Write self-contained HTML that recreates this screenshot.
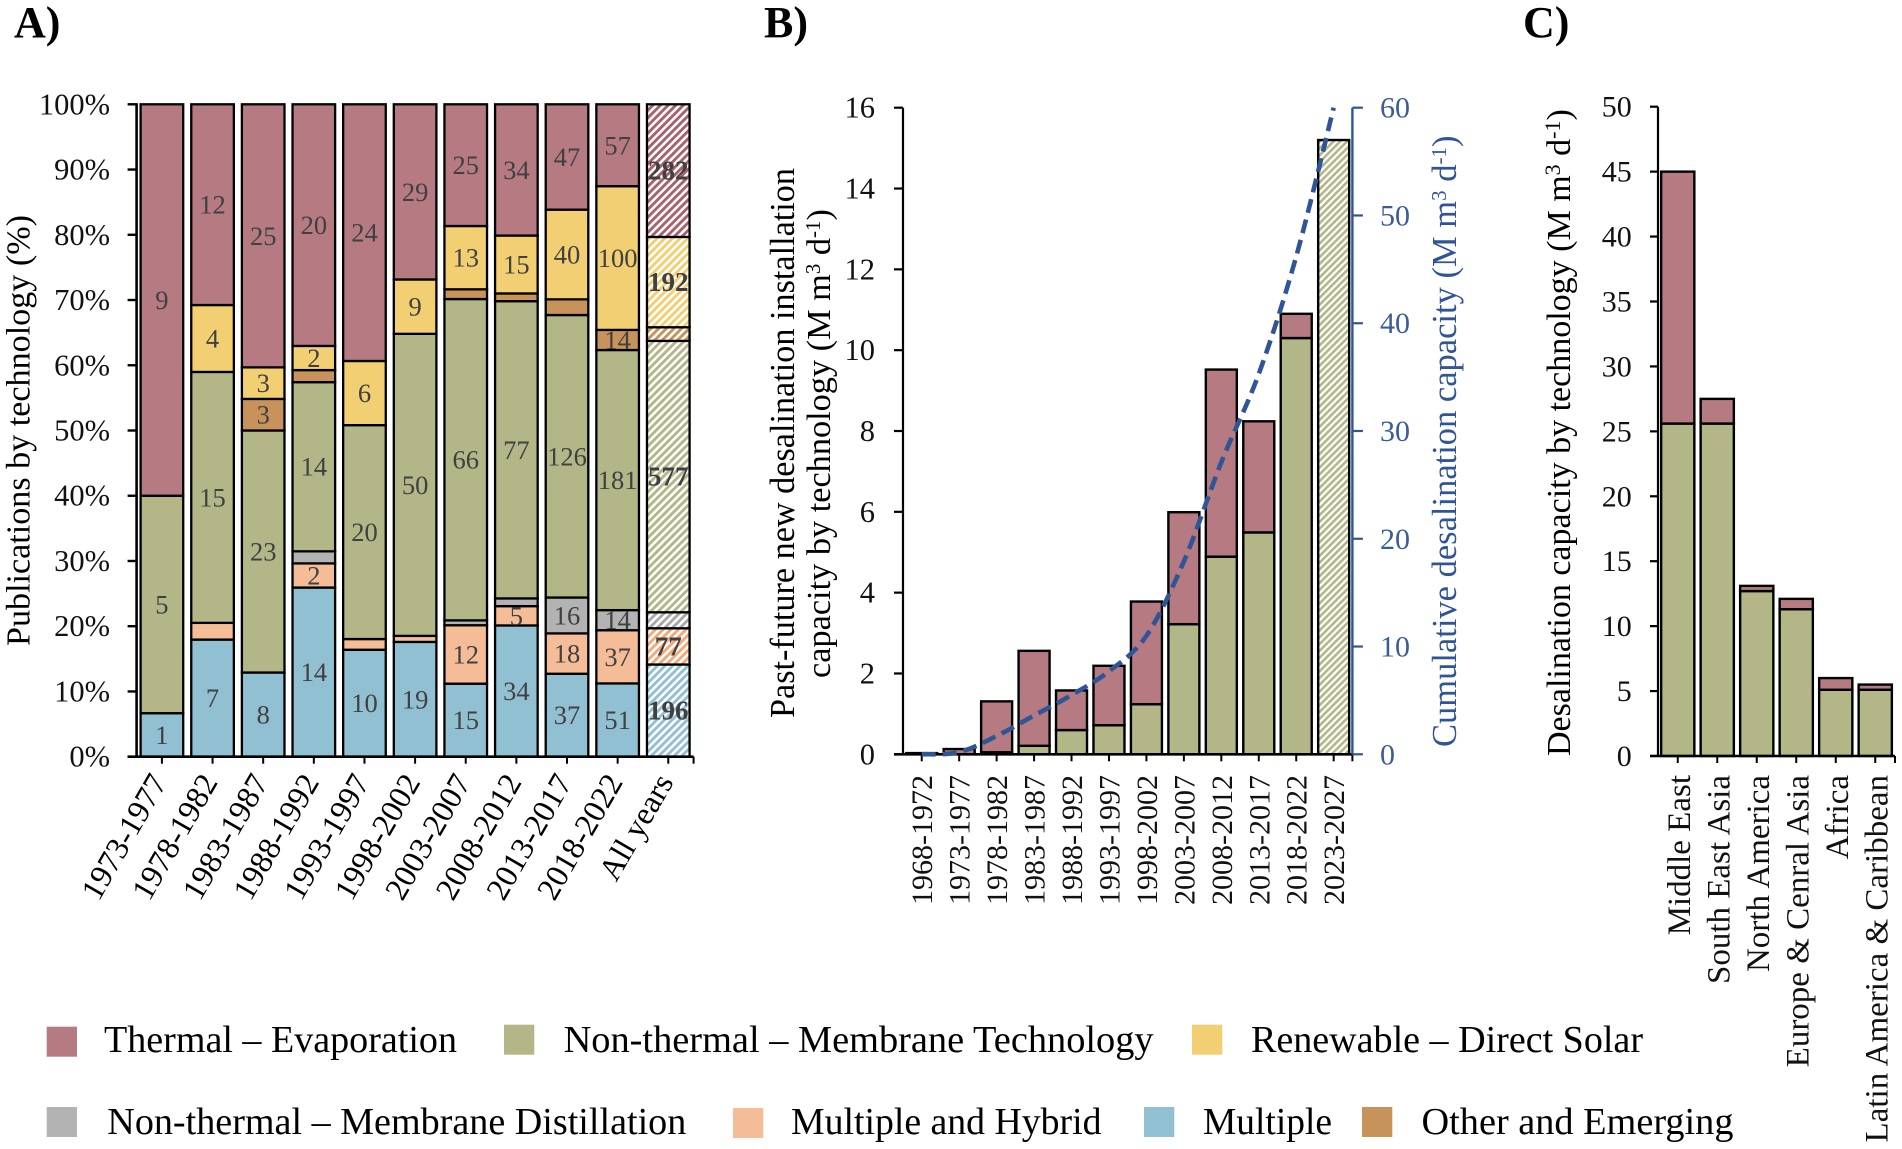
<!DOCTYPE html>
<html lang="en">
<head>
<meta charset="utf-8">
<title>Desalination publications and capacity by technology</title>
<style>
html,body{margin:0;padding:0;background:#fff;width:1902px;height:1149px;overflow:hidden}
svg{display:block;font-family:"Liberation Serif",serif}
</style>
</head>
<body>
<svg id="figure" width="1902" height="1149" viewBox="0 0 1902 1149" xmlns="http://www.w3.org/2000/svg">
  <defs>
    <pattern id="hatch-red" width="5.4" height="5.4" patternUnits="userSpaceOnUse" patternTransform="rotate(45)"><rect width="5.4" height="5.4" fill="#fff"/><rect width="2.9" height="5.4" fill="#a8626e"/></pattern>
    <pattern id="hatch-green" width="5.4" height="5.4" patternUnits="userSpaceOnUse" patternTransform="rotate(45)"><rect width="5.4" height="5.4" fill="#fff"/><rect width="2.9" height="5.4" fill="#b3b788"/></pattern>
    <pattern id="hatch-yellow" width="5.4" height="5.4" patternUnits="userSpaceOnUse" patternTransform="rotate(45)"><rect width="5.4" height="5.4" fill="#fff"/><rect width="2.9" height="5.4" fill="#f2cf73"/></pattern>
    <pattern id="hatch-other" width="5.4" height="5.4" patternUnits="userSpaceOnUse" patternTransform="rotate(45)"><rect width="5.4" height="5.4" fill="#fff"/><rect width="2.9" height="5.4" fill="#c8935b"/></pattern>
    <pattern id="hatch-hybrid" width="5.4" height="5.4" patternUnits="userSpaceOnUse" patternTransform="rotate(45)"><rect width="5.4" height="5.4" fill="#fff"/><rect width="2.9" height="5.4" fill="#f5a878"/></pattern>
    <pattern id="hatch-gray" width="5.4" height="5.4" patternUnits="userSpaceOnUse" patternTransform="rotate(45)"><rect width="5.4" height="5.4" fill="#fff"/><rect width="2.9" height="5.4" fill="#a9a9a9"/></pattern>
    <pattern id="hatch-blue" width="5.4" height="5.4" patternUnits="userSpaceOnUse" patternTransform="rotate(45)"><rect width="5.4" height="5.4" fill="#fff"/><rect width="2.9" height="5.4" fill="#92c0d3"/></pattern>
    <pattern id="hatch-green-b" width="4.8" height="4.8" patternUnits="userSpaceOnUse" patternTransform="rotate(45)"><rect width="4.8" height="4.8" fill="#fff"/><rect width="2.6" height="4.8" fill="#b3b788"/></pattern>
  </defs>

  <text x="14" y="37" font-size="44" font-weight="bold">A)</text>
  <text x="764" y="37" font-size="44" font-weight="bold">B)</text>
  <text x="1523" y="37" font-size="44" font-weight="bold">C)</text>

  <text transform="translate(29.5,646) rotate(-90)" font-size="34" textLength="431" lengthAdjust="spacingAndGlyphs">Publications by technology (%)</text>
  <text transform="translate(794,718) rotate(-90)" font-size="34.5" textLength="550" lengthAdjust="spacingAndGlyphs">Past-future new desalination installation</text>
  <text transform="translate(830,678) rotate(-90)" font-size="34.3">capacity by technology (M m<tspan dy="-10" font-size="21">3</tspan><tspan dy="10"> d</tspan><tspan dy="-10" font-size="21">-1</tspan><tspan dy="10">)</tspan></text>
  <text transform="translate(1456,747) rotate(-90)" font-size="34.5" fill="#2f5597">Cumulative desalination capacity (M m<tspan dy="-10" font-size="21">3</tspan><tspan dy="10"> d</tspan><tspan dy="-10" font-size="21">-1</tspan><tspan dy="10">)</tspan></text>
  <text transform="translate(1570,756) rotate(-90)" font-size="34">Desalination capacity by technology (M m<tspan dy="-10" font-size="22">3</tspan><tspan dy="10"> d</tspan><tspan dy="-10" font-size="22">-1</tspan><tspan dy="10">)</tspan></text>

  <g id="panel-a"></g>
  <g id="panel-b"></g>
  <g id="panel-c"></g>

  <g font-size="38">
    <g><rect x="46.7" y="1026.7" width="30.3" height="30" fill="#b57a82"/><text x="104" y="1052" textLength="353" lengthAdjust="spacingAndGlyphs">Thermal – Evaporation</text></g>
    <g><rect x="504" y="1024.7" width="30.3" height="30" fill="#b3b788"/><text x="563.6" y="1052" textLength="590" lengthAdjust="spacingAndGlyphs">Non-thermal – Membrane Technology</text></g>
    <g><rect x="1192" y="1024.7" width="30.3" height="30" fill="#f2cf73"/><text x="1251" y="1052" textLength="392" lengthAdjust="spacingAndGlyphs">Renewable – Direct Solar</text></g>
    <g><rect x="46.7" y="1107" width="30.3" height="30" fill="#b3b3b3"/><text x="107.3" y="1134" textLength="579" lengthAdjust="spacingAndGlyphs">Non-thermal – Membrane Distillation</text></g>
    <g><rect x="733" y="1108" width="30.3" height="30" fill="#f5bd97"/><text x="791" y="1134" textLength="310.5" lengthAdjust="spacingAndGlyphs">Multiple and Hybrid</text></g>
    <g><rect x="1144" y="1107" width="30.3" height="30" fill="#92c0d3"/><text x="1203" y="1134" textLength="129" lengthAdjust="spacingAndGlyphs">Multiple</text></g>
    <g><rect x="1362" y="1107" width="30.3" height="30" fill="#c8935b"/><text x="1421.5" y="1134" textLength="312" lengthAdjust="spacingAndGlyphs">Other and Emerging</text></g>
  </g>
</svg>

<script>
// ---------- Panel A data: publication counts per period ----------
const periodsA = ['1973-1977','1978-1982','1983-1987','1988-1992','1993-1997','1998-2002','2003-2007','2008-2012','2013-2017','2018-2022','All years'];
const pubMultiple     = [1,7,8,14,10,19,15,34,37,51,196];
const pubHybrid       = [0,1,0,2,1,1,12,5,18,37,77];
const pubDistillation = [0,0,0,1,0,0,1,2,16,14,34];
const pubMembrane     = [5,15,23,14,20,50,66,77,126,181,577];
const pubOther        = [0,0,3,1,0,0,2,2,7,14,29];
const pubSolar        = [0,4,3,2,6,9,13,15,40,100,192];
const pubThermal      = [9,12,25,20,24,29,25,34,47,57,282];
const percentTicksA   = ['0%','10%','20%','30%','40%','50%','60%','70%','80%','90%','100%'];
const hatchedPeriodA  = 'All years';

// ---------- Panel B data: new capacity per period ----------
const periodsB = ['1968-1972','1973-1977','1978-1982','1983-1987','1988-1992','1993-1997','1998-2002','2003-2007','2008-2012','2013-2017','2018-2022','2023-2027'];
const newMembrane  = [0,0,0.05,0.21,0.6,0.72,1.24,3.22,4.89,5.49,10.3,15.2];
const newThermal   = [0.03,0.13,1.26,2.35,0.98,1.47,2.54,2.77,4.63,2.75,0.6,0];
const cumulative   = [0,0.2,1.7,3.6,5.5,7.7,11.0,17.9,27.1,35.3,46.2,60];
const leftTicksB   = [0,2,4,6,8,10,12,14,16];
const rightTicksB  = [0,10,20,30,40,50,60];
const forecastPeriodB = '2023-2027';

// ---------- Panel C data: capacity per region ----------
const regions = ['Middle East','South East Asia','North America','Europe & Cenral Asia','Africa','Latin America & Caribbean'];
const regionMembrane = [25.6,25.6,12.7,11.3,5.1,5.1];
const regionThermal  = [19.4,1.9,0.4,0.8,0.9,0.4];
const ticksC = [0,5,10,15,20,25,30,35,40,45,50];

const NS = 'http://www.w3.org/2000/svg';
function make(tag, attrs, parent){
  const n = document.createElementNS(NS, tag);
  for (const k in attrs) n.setAttribute(k, attrs[k]);
  parent.appendChild(n);
  return n;
}
function axisLine(parent, x1, y1, x2, y2, color, width, name){
  const l = make('line', {x1, y1, x2, y2, stroke: color, 'stroke-width': width}, parent);
  
  
  return l;
}
function label(parent, x, y, str, size, anchor, color, rot, name){
  const attrs = {'font-size': size, 'text-anchor': anchor, fill: color};
  if (rot) attrs.transform = 'translate(' + x + ',' + y + ') rotate(' + rot + ')';
  else { attrs.x = x; attrs.y = y; }
  const t = make('text', attrs, parent);
  t.textContent = str;
  
  
  return t;
}

// ---------- Panel A ----------
(function(){
  const g = document.getElementById('panel-a');
  const top = 104.3, bottom = 756.7, left = 136.6, right = 693.6;
  const band = (right - left) / periodsA.length, barW = 42.6;
  const yScale = p => bottom - (bottom - top) * p / 100;
  const xCenter = i => left + band * (i + 0.5);
  const stack = [
    {key:'multiple', values:pubMultiple, fill:'#92c0d3', hatch:'hatch-blue'},
    {key:'hybrid', values:pubHybrid, fill:'#f5bd97', hatch:'hatch-hybrid'},
    {key:'distillation', values:pubDistillation, fill:'#b3b3b3', hatch:'hatch-gray'},
    {key:'membrane', values:pubMembrane, fill:'#b3b788', hatch:'hatch-green'},
    {key:'other', values:pubOther, fill:'#c8935b', hatch:'hatch-other'},
    {key:'solar', values:pubSolar, fill:'#f2cf73', hatch:'hatch-yellow'},
    {key:'thermal', values:pubThermal, fill:'#b57a82', hatch:'hatch-red'}
  ];
  periodsA.forEach((period, i) => {
    const total = stack.reduce((s, d) => s + d.values[i], 0);
    let acc = 0;
    stack.forEach(d => {
      const v = d.values[i];
      if (!v) return;
      const p0 = acc / total * 100, p1 = (acc + v) / total * 100;
      acc += v;
      const hatched = period === hatchedPeriodA;
      const r = make('rect', {x: xCenter(i) - barW / 2, y: yScale(p1), width: barW, height: yScale(p0) - yScale(p1),
        fill: hatched ? 'url(#' + d.hatch + ')' : d.fill, stroke: '#000', 'stroke-width': 2.3}, g);
      
      
      if (v / total * 100 >= 2.9) {
        const t = label(g, xCenter(i), (yScale(p0) + yScale(p1)) / 2 + 9, String(v), hatched ? 27 : 26.5, 'middle', '#404040', 0, 'value-label-' + d.key + '-' + i);
        if (hatched) t.setAttribute('font-weight', 'bold');
      }
    });
    axisLine(g, xCenter(i), bottom, xCenter(i), bottom + 7, '#000', 2, 'x-tick-a');
    label(g, xCenter(i) + 6, 782, period, 32, 'end', '#000', -60, 'x-tick-label-a-' + i);
  });
  axisLine(g, left, top - 1, left, bottom, '#000', 2.6, 'y-axis-a');
  axisLine(g, left - 9, bottom, right, bottom, '#000', 2.6, 'x-axis-a');
  axisLine(g, right, bottom, right, bottom + 7, '#000', 2, 'x-axis-end-tick-a');
  percentTicksA.forEach((s, i) => {
    const y = top + (bottom - top) * (percentTicksA.length - 1 - i) / (percentTicksA.length - 1);
    axisLine(g, left - 9, y, left, y, '#000', 2.4, 'y-tick-a');
    label(g, 110, y + 10, s, 30.5, 'end', '#111', 0, 'y-tick-label-a-' + i);
  });
})();

// ---------- Panel B ----------
(function(){
  const g = document.getElementById('panel-b');
  const top = 107.7, bottom = 754.3, left = 903, right = 1352.4;
  const band = (right - left) / periodsB.length, barW = 31;
  const yLeft = v => bottom - (bottom - top) * v / 16;
  const yRight = v => bottom - (bottom - top) * v / 60;
  const xCenter = i => left + band * (i + 0.5);
  periodsB.forEach((period, i) => {
    let base = 0;
    const m = newMembrane[i], th = newThermal[i];
    if (m) {
      const r = make('rect', {x: xCenter(i) - barW / 2, y: yLeft(m), width: barW, height: yLeft(0) - yLeft(m),
        fill: period === forecastPeriodB ? 'url(#hatch-green-b)' : '#b3b788', stroke: '#000', 'stroke-width': 2.4}, g);
      
      
      base = m;
    }
    if (th) {
      const r = make('rect', {x: xCenter(i) - barW / 2, y: yLeft(base + th), width: barW, height: yLeft(base) - yLeft(base + th),
        fill: '#b57a82', stroke: '#000', 'stroke-width': 2.4}, g);
      
      
    }
    axisLine(g, xCenter(i), bottom, xCenter(i), bottom + 7, '#000', 2, 'x-tick-b');
    label(g, xCenter(i) + 10.5, 775, period, 30, 'end', '#111', -90, 'x-tick-label-b-' + i);
  });
  axisLine(g, left, top, left, bottom, '#000', 2.2, 'y-axis-b');
  axisLine(g, left - 9, bottom, right, bottom, '#000', 2.6, 'x-axis-b');
  axisLine(g, right, bottom, right, bottom + 7, '#000', 2, 'x-axis-end-tick-b');
  axisLine(g, right, top, right, bottom, '#2f5597', 2.4, 'secondary-y-axis-b');
  leftTicksB.forEach(v => {
    axisLine(g, left - 9, yLeft(v), left, yLeft(v), '#000', 2.2, 'y-tick-b');
    label(g, 875, yLeft(v) + 10, String(v), 30.5, 'end', '#111', 0, 'y-tick-label-b-' + v);
  });
  rightTicksB.forEach(v => {
    axisLine(g, right, yRight(v), right + 10.5, yRight(v), '#2f5597', 2.2, 'secondary-y-tick-b');
    label(g, 1380, yRight(v) + 10, String(v), 30, 'start', '#3b5c98', 0, 'secondary-y-tick-label-b-' + v);
  });
  // smoothed cumulative line (Catmull-Rom through the data points)
  const pts = cumulative.map((v, i) => [xCenter(i), yRight(v)]);
  let d = 'M' + pts[0][0] + ' ' + pts[0][1];
  for (let i = 0; i < pts.length - 1; i++) {
    const p0 = pts[Math.max(i - 1, 0)], p1 = pts[i], p2 = pts[i + 1], p3 = pts[Math.min(i + 2, pts.length - 1)];
    const c1x = p1[0] + (p2[0] - p0[0]) / 6, c1y = p1[1] + (p2[1] - p0[1]) / 6;
    const c2x = p2[0] - (p3[0] - p1[0]) / 6, c2y = p2[1] - (p3[1] - p1[1]) / 6;
    d += ' C' + c1x + ' ' + c1y + ' ' + c2x + ' ' + c2y + ' ' + p2[0] + ' ' + p2[1];
  }
  const line = make('path', {d, fill: 'none', stroke: '#2f5597', 'stroke-width': 4.6, 'stroke-dasharray': '14 7'}, g);
  
  
})();

// ---------- Panel C ----------
(function(){
  const g = document.getElementById('panel-c');
  const top = 106.7, bottom = 756, left = 1658, right = 1895;
  const band = (right - left) / regions.length, barW = 33.2;
  const yScale = v => bottom - (bottom - top) * v / 50;
  const xCenter = i => left + band * (i + 0.5);
  regions.forEach((region, i) => {
    const m = regionMembrane[i], th = regionThermal[i];
    const r1 = make('rect', {x: xCenter(i) - barW / 2, y: yScale(m), width: barW, height: yScale(0) - yScale(m),
      fill: '#b3b788', stroke: '#000', 'stroke-width': 2.4}, g);
    
    
    const r2 = make('rect', {x: xCenter(i) - barW / 2, y: yScale(m + th), width: barW, height: yScale(m) - yScale(m + th),
      fill: '#b57a82', stroke: '#000', 'stroke-width': 2.4}, g);
    
    
    axisLine(g, xCenter(i), bottom, xCenter(i), bottom + 7, '#000', 2, 'x-tick-c');
    label(g, xCenter(i) + 12, 775, region, 33, 'end', '#111', -90, 'x-tick-label-c-' + i);
  });
  axisLine(g, left, top, left, bottom, '#000', 2.2, 'y-axis-c');
  axisLine(g, left - 8, bottom, right, bottom, '#000', 2.4, 'x-axis-c');
  axisLine(g, right, bottom, right, bottom + 7, '#000', 2, 'x-axis-end-tick-c');
  ticksC.forEach(v => {
    axisLine(g, left - 8, yScale(v), left, yScale(v), '#000', 2.2, 'y-tick-c');
    label(g, 1631.7, yScale(v) + 10, String(v), 30, 'end', '#111', 0, 'y-tick-label-c-' + v);
  });
})();
</script>
</body>
</html>
